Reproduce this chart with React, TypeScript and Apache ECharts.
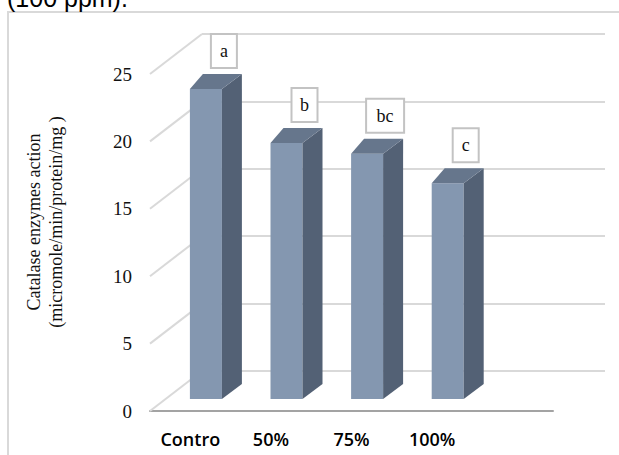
import React, { useEffect, useRef } from "react";
import * as echarts from "echarts";

// Catalase activity per treatment (micromole/min/protein/mg)
const categories = ["Contro", "50%", "75%", "100%", ""];
const catalase = [23.0, 19.0, 18.2, 16.0];
const groupLetters = ["a", "b", "bc", "c"];
const yTicks = [0, 5, 10, 15, 20, 25];

const W = 619;
const H = 455;

// Oblique depth of the plot box: floor front edge -> back wall
const DEPTH_X = 52;
const DEPTH_Y = -40;
// Bars sit 30% deep into the box and are 40% deep themselves
const BAR_W = 32;
const BAR_SHIFT = 0.3;
const BAR_DXL = 13;
const BAR_DXR = 20;
const BAR_DY = -15;

const FRONT = { left: 150, top: 74, width: 403, height: 337 };
const BACK = {
  left: FRONT.left + DEPTH_X,
  top: FRONT.top + DEPTH_Y,
  width: FRONT.width,
  height: FRONT.height,
};

const SERIF = "'Liberation Serif', 'Times New Roman', serif";
const GRID_COLOR = "#d9d9d9";

export default function App() {
  const ref = useRef<HTMLDivElement>(null);

  useEffect(() => {
    if (!ref.current) return;
    const chart = echarts.init(ref.current, null, { renderer: "svg" });

    const option: any = {
      animation: false,
      backgroundColor: "#ffffff",
      grid: [
        { ...FRONT, containLabel: false },
        { ...BACK, containLabel: false },
      ],
      xAxis: [
        {
          type: "category",
          gridIndex: 0,
          data: categories,
          boundaryGap: true,
          axisLine: { show: true, lineStyle: { color: "#a3a3a3", width: 2 } },
          axisTick: { show: false },
          axisLabel: {
            margin: 19,
            color: "#000",
            fontFamily: "'Open Sans', 'Liberation Sans', sans-serif",
            fontWeight: 600,
            fontSize: 18,
            interval: 0,
          },
          splitLine: { show: false },
        },
        {
          type: "category",
          gridIndex: 1,
          data: categories,
          show: false,
        },
      ],
      yAxis: [
        {
          type: "value",
          gridIndex: 0,
          min: 0,
          max: 25,
          interval: 5,
          axisLine: { show: false },
          axisTick: { show: false },
          splitLine: { show: false },
          axisLabel: {
            margin: 18,
            color: "#111",
            fontFamily: SERIF,
            fontSize: 19,
          },
        },
        {
          type: "value",
          gridIndex: 1,
          min: 0,
          max: 25,
          interval: 5,
          axisLine: { show: false },
          axisTick: { show: false },
          axisLabel: { show: false },
          splitLine: { show: true, lineStyle: { color: GRID_COLOR, width: 2 } },
        },
      ],
      graphic: [
        {
          type: "rect",
          shape: { x: 8, y: 12, width: W + 20, height: H + 20 },
          style: { fill: "none", stroke: GRID_COLOR, lineWidth: 2 },
          silent: true,
          z: -1,
        },
        {
          type: "text",
          x: 7,
          y: -2,
          style: {
            text: "(100 ppm).",
            font: "25px 'Liberation Sans', Arial, sans-serif",
            fill: "#000",
            verticalAlign: "middle",
            align: "left",
          },
        },
        {
          type: "text",
          x: 45,
          y: 222,
          rotation: Math.PI / 2,
          style: {
            text: "Catalase enzymes action\n(micromole/min/protein/mg )",
            font: `18px ${SERIF}`,
            lineHeight: 22,
            fill: "#111",
            align: "center",
            verticalAlign: "middle",
          },
        },
      ],
      series: [
        {
          // side-wall gridlines running from the front axis back to the wall
          type: "custom",
          xAxisIndex: 0,
          yAxisIndex: 0,
          z: 1,
          silent: true,
          data: yTicks.map((v) => [0, v]),
          renderItem: (params: any, api: any) => {
            const p = api.coord([0, api.value(1)]);
            const band = api.size([1, 0])[0];
            const x0 = p[0] - band / 2;
            return {
              type: "line",
              shape: { x1: x0, y1: p[1], x2: x0 + DEPTH_X, y2: p[1] + DEPTH_Y },
              style: { stroke: GRID_COLOR, lineWidth: 2 },
            };
          },
        },
        {
          type: "custom",
          xAxisIndex: 0,
          yAxisIndex: 0,
          z: 3,
          data: catalase.map((v, i) => [i, v]),
          renderItem: (params: any, api: any) => {
            const idx = api.value(0);
            const base = api.coord([idx, 0]);
            const top = api.coord([idx, api.value(1)]);
            const sx = BAR_SHIFT * DEPTH_X;
            const sy = BAR_SHIFT * DEPTH_Y;
            const fl = base[0] - BAR_W / 2 + sx;
            const fr = fl + BAR_W;
            const yb = base[1] + sy;
            const yt = top[1] + sy;
            const letter = groupLetters[idx] ?? "";
            const boxW = 14 + 12 * letter.length;
            const boxH = 34;
            const boxCx = fl + BAR_W / 2 + 18;
            const boxBottom = yt + BAR_DY - 6;
            return {
              type: "group",
              children: [
                {
                  type: "rect",
                  shape: { x: fl, y: yt, width: BAR_W, height: yb - yt },
                  style: { fill: "#8497b0" },
                },
                {
                  type: "polygon",
                  shape: {
                    points: [
                      [fr, yt],
                      [fr + BAR_DXR, yt + BAR_DY],
                      [fr + BAR_DXR, yb + BAR_DY],
                      [fr, yb],
                    ],
                  },
                  style: { fill: "#536175" },
                },
                {
                  type: "polygon",
                  shape: {
                    points: [
                      [fl, yt],
                      [fl + BAR_DXL, yt + BAR_DY],
                      [fr + BAR_DXR, yt + BAR_DY],
                      [fr, yt],
                    ],
                  },
                  style: { fill: "#66768c" },
                },
                {
                  type: "rect",
                  shape: {
                    x: boxCx - boxW / 2,
                    y: boxBottom - boxH,
                    width: boxW,
                    height: boxH,
                  },
                  style: { fill: "#ffffff", stroke: "#c3c3c3", lineWidth: 2 },
                },
                {
                  type: "text",
                  x: boxCx,
                  y: boxBottom - boxH / 2,
                  style: {
                    text: letter,
                    font: `18px ${SERIF}`,
                    fill: "#111",
                    align: "center",
                    verticalAlign: "middle",
                  },
                },
              ],
            };
          },
        },
      ],
    };

    chart.setOption(option);
    return () => chart.dispose();
  }, []);

  return (
    <div
      ref={ref}
      style={{ position: "absolute", left: 0, top: 0, width: W, height: H }}
    />
  );
}
